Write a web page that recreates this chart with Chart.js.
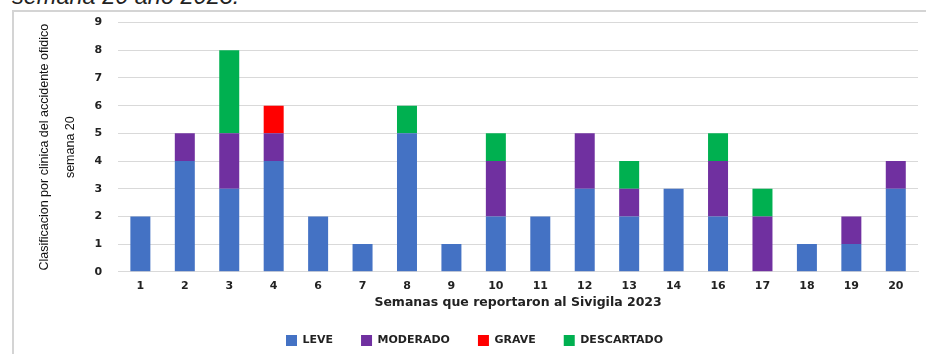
<!DOCTYPE html>
<html>
<head>
<meta charset="utf-8">
<script src="https://cdn.jsdelivr.net/npm/chart.js@4"></script>
<style>
  html, body { margin: 0; padding: 0; background: #fff; width: 926px; height: 354px; overflow: hidden; }
  #caption { position: absolute; left: 12px; top: -17px; font: italic 23.5px "Liberation Sans", Arial, sans-serif; color: #222; white-space: nowrap; }
  #frame { position: absolute; left: 12px; top: 10px; width: 930px; height: 360px; border-left: 2px solid #d4d4d4; border-top: 2px solid #d4d4d4; }
  #wrap { position: absolute; left: 0; top: 0; width: 926px; height: 354px; }
</style>
</head>
<body>
<div id="caption">semana 20 año 2023.</div>
<div id="frame"></div>
<div id="wrap"><canvas id="c"></canvas></div>
<script>
const semanas = ['1','2','3','4','6','7','8','9','10','11','12','13','14','16','17','18','19','20'];
const leve       = [2,4,3,4,2,1,5,1,2,2,3,2,3,2,0,1,1,3];
const moderado   = [0,1,2,1,0,0,0,0,2,0,2,1,0,2,2,0,1,1];
const grave      = [0,0,0,1,0,0,0,0,0,0,0,0,0,0,0,0,0,0];
const descartado = [0,0,3,0,0,0,1,0,1,0,0,1,0,1,1,0,0,0];
const yTicks = [0,1,2,3,4,5,6,7,8,9];

const tickFont = { family: 'Verdana, "DejaVu Sans", sans-serif', size: 11, weight: 'bold' };

new Chart(document.getElementById('c'), {
  type: 'bar',
  data: {
    labels: semanas,
    datasets: [
      { label: 'LEVE', data: leve, backgroundColor: '#4472C4' },
      { label: 'MODERADO', data: moderado, backgroundColor: '#7030A0' },
      { label: 'GRAVE', data: grave, backgroundColor: '#FF0000' },
      { label: 'DESCARTADO', data: descartado, backgroundColor: '#00B050' }
    ]
  },
  options: {
    responsive: true,
    maintainAspectRatio: false,
    animation: false,
    layout: { padding: { left: 31, right: 8, top: 20, bottom: -2 } },
    datasets: { bar: { barPercentage: 0.45, categoryPercentage: 1.0 } },
    plugins: {
      legend: {
        position: 'bottom',
        labels: {
          boxWidth: 11, boxHeight: 11, padding: 28,
          color: '#222',
          font: { family: 'Verdana, "DejaVu Sans", sans-serif', size: 11, weight: 'bold' }
        }
      },
      tooltip: { enabled: false }
    },
    scales: {
      x: {
        stacked: true,
        grid: { display: false, drawTicks: false },
        border: { display: true, color: '#d9d9d9', width: 1 },
        ticks: { color: '#222', font: tickFont, padding: 8, maxRotation: 0 },
        title: {
          display: true,
          text: 'Semanas que reportaron al Sivigila 2023',
          color: '#222',
          font: { family: 'Verdana, "DejaVu Sans", sans-serif', size: 12.5, weight: 'bold' },
          padding: { top: -6, bottom: -3 }
        }
      },
      y: {
        stacked: true,
        min: 0, max: 9,
        afterBuildTicks: (scale) => { scale.ticks = yTicks.map(v => ({ value: v })); },
        grid: { color: '#d9d9d9', lineWidth: 1, drawTicks: false },
        border: { display: false },
        ticks: { color: '#222', font: tickFont, padding: 16 },
        title: {
          display: true,
          text: ['Clasificacion por clinica del accidente ofidico', 'semana 20'],
          color: '#111',
          font: { family: '"Liberation Sans", sans-serif', size: 12.5, lineHeight: 2.1 },
          padding: { top: 0, bottom: -5 }
        }
      }
    }
  }
});
</script>
</body>
</html>
